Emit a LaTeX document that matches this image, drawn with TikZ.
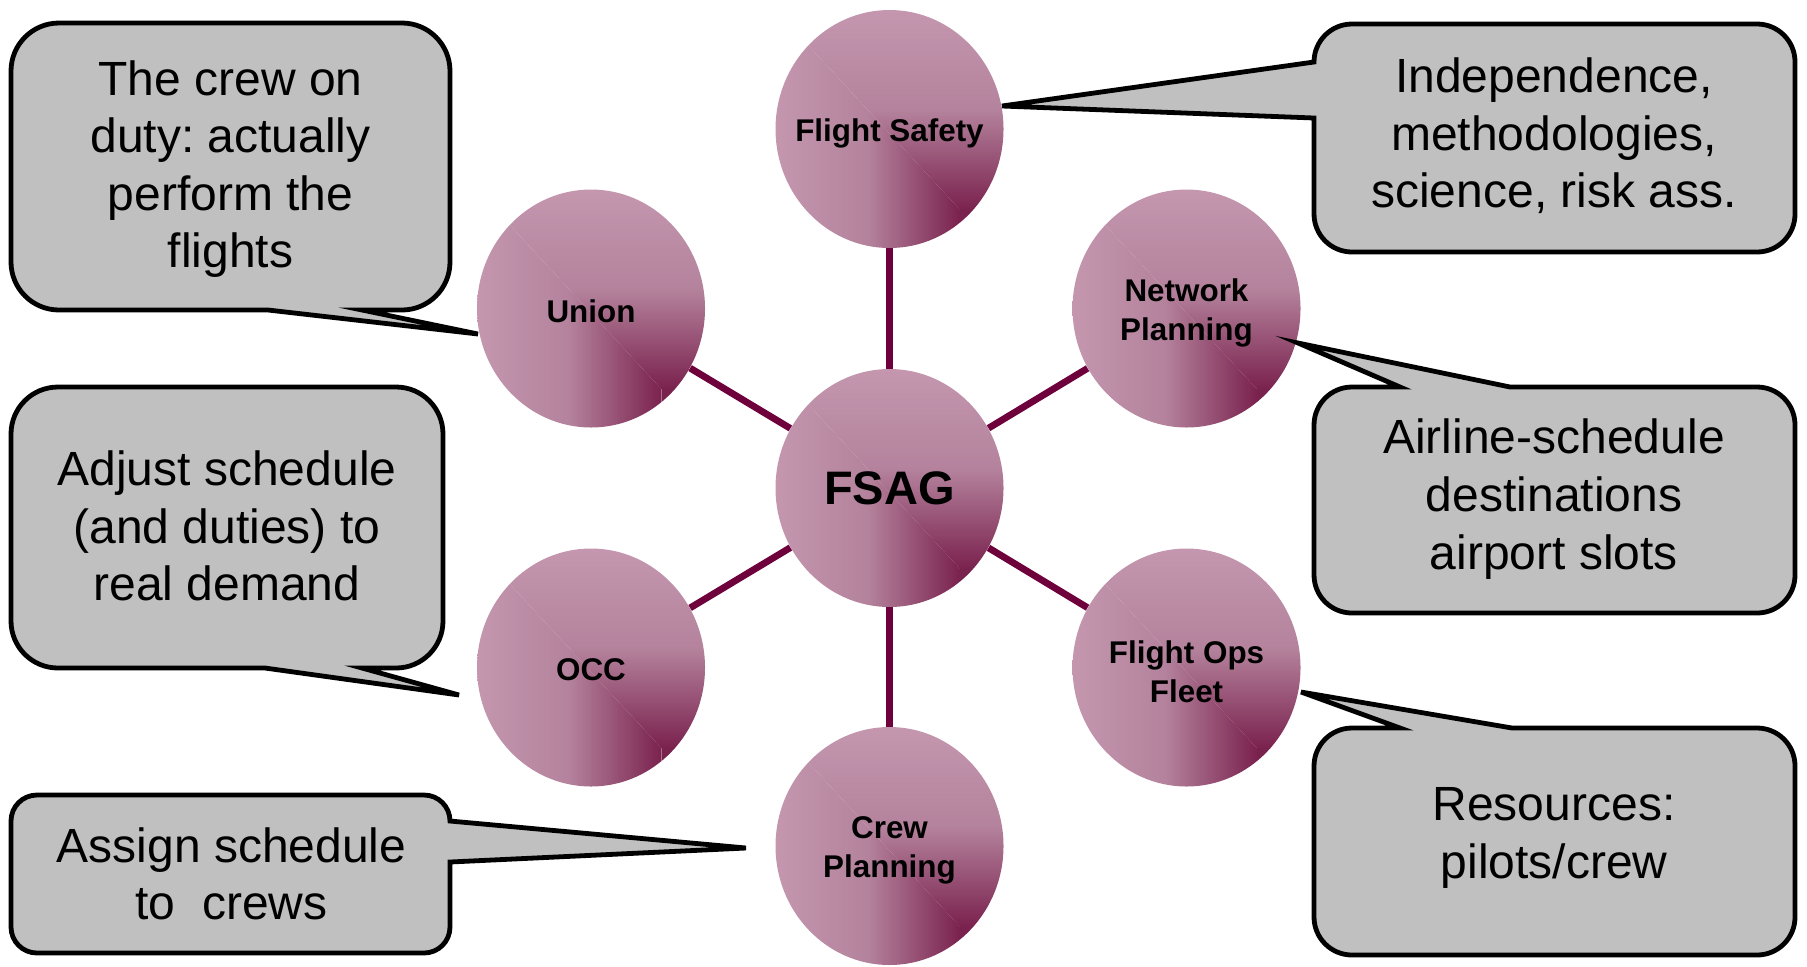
\documentclass[tikz,border=0pt]{standalone}
\usepackage{fontspec}
\setmainfont{Liberation Sans}
\usetikzlibrary{shapes.geometric,calc}
\definecolor{orbLight}{RGB}{196,151,175}
\definecolor{orbMid}{RGB}{180,130,156}
\definecolor{orbDark}{RGB}{122,34,78}
\definecolor{linkRed}{RGB}{110,0,60}
\definecolor{noteGray}{RGB}{192,192,192}

\tikzset{
  orb/.style={ellipse, minimum width=114pt, minimum height=119pt, inner sep=0pt,
    path picture={
      \coordinate (pw) at (path picture bounding box.north west);
      \coordinate (pe) at (path picture bounding box.south east);
      \coordinate (pf) at ($(pw)!0.81!(pw -| pe)$);
      \coordinate (pg) at ($(pw)!0.84!(pw |- pe)$);
      \coordinate (pF) at (pf |- pg);
      % upper part: darkens downwards
      \shade[top color=orbLight, bottom color=orbDark, middle color=orbMid]
        (pw) -- (pw -| pe) -- (pe |- pF) -- (pF) -- cycle;
      % left part: darkens to the right
      \shade[left color=orbLight, right color=orbDark, middle color=orbMid]
        (pw) -- (pF) -- (pF |- pe) -- (pw |- pe) -- cycle;
      \fill[orbDark] (pF) -- (pe |- pF) -- (pe) -- (pF |- pe) -- cycle;
    }},
  orbtext/.style={align=center, inner sep=0pt, font=\fontsize{15.7}{19.5}\selectfont\bfseries},
  link/.style={draw=linkRed, line width=3.4pt},
  note/.style={draw=black, fill=noteGray, line width=2.4pt, line join=miter},
  notetext/.style={align=center, inner sep=0pt, font=\frenchspacing\fontsize{24}{28.8}\selectfont}
}

\begin{document}
\begin{tikzpicture}[x=0.5pt,y=-0.5pt]
\useasboundingbox (0,0) rectangle (1807,966);

% the hub and its six groups
\node[orb] (safety)  at (889.5,129)    {};
\node[orb] (union)   at (591,308.5)    {};
\node[orb] (network) at (1186.5,308.5) {};
\node[orb] (fsag)    at (889.5,488)    {};
\node[orb] (occ)     at (591,667.5)    {};
\node[orb] (ops)     at (1186.5,667.5) {};
\node[orb] (crew)    at (889.5,846)    {};

\node[orbtext] (safety-t)  at ([yshift=-2.2pt]safety.center)  {Flight Safety};
\node[orbtext] (union-t)   at ([yshift=-1.2pt]union.center)   {Union};
\node[orbtext] (network-t) at ([yshift=-2.2pt]network.center) {Network\\Planning};
\node[orbtext, font=\fontsize{23.5}{28}\selectfont\bfseries] (fsag-t) at (fsag.center) {FSAG};
\node[orbtext] (occ-t)     at ([yshift=-1.2pt]occ.center)     {OCC};
\node[orbtext] (ops-t)     at ([yshift=-2.2pt]ops.center)     {Flight Ops\\Fleet};
\node[orbtext] (crew-t)    at ([yshift=-2.2pt]crew.center)    {Crew\\Planning};

% spokes
\draw[link] (fsag) -- (safety);
\draw[link] (fsag) -- (crew);
\draw[link] (fsag) -- (union);
\draw[link] (fsag) -- (occ);
\draw[link] (fsag) -- (network);
\draw[link] (fsag) -- (ops);

% callouts on the left
\draw[note] (59,23) -- (402,23) .. controls (428.5,23) and (450,44.5) .. (450,71)
  -- (450,262) .. controls (450,288.5) and (428.5,310) .. (402,310)
  -- (362,310) -- (478,334) -- (268,310)
  -- (59,310) .. controls (32.5,310) and (11,288.5) .. (11,262)
  -- (11,71) .. controls (11,44.5) and (32.5,23) .. (59,23) -- cycle;
\node[notetext] (tcrew) at (230.5,169) {The crew on\\duty: actually\\perform the\\flights};

\draw[note] (58,387) -- (396,387) .. controls (422,387) and (443,408) .. (443,434)
  -- (443,621) .. controls (443,647) and (422,668) .. (396,668)
  -- (362,668) -- (459,695) -- (265,668)
  -- (58,668) .. controls (32,668) and (11,647) .. (11,621)
  -- (11,434) .. controls (11,408) and (32,387) .. (58,387) -- cycle;
\node[notetext] (tadjust) at (227,526) {Adjust schedule\\(and duties) to\\real demand};

\draw[note] (37,795) -- (424,795) .. controls (438.4,795) and (450,806.6) .. (450,821)
  -- (746,848) -- (450,862)
  -- (450,927) .. controls (450,941.4) and (438.4,953) .. (424,953)
  -- (37,953) .. controls (22.6,953) and (11,941.4) .. (11,927)
  -- (11,821) .. controls (11,806.6) and (22.6,795) .. (37,795) -- cycle;
\node[notetext] (tassign) at (231.5,874) {Assign schedule\\to\ \ crews};

% callouts on the right
\draw[note] (1352,24) -- (1757,24) .. controls (1778,24) and (1795,41) .. (1795,62)
  -- (1795,214) .. controls (1795,235) and (1778,252) .. (1757,252)
  -- (1352,252) .. controls (1331,252) and (1314,235) .. (1314,214)
  -- (1314,118) -- (1002,106) -- (1314,62)
  .. controls (1314,41) and (1331,24) .. (1352,24) -- cycle;
\node[notetext] (tindep) at (1554,136) {Independence,\\methodologies,\\science, risk ass.};

\draw[note] (1352,387) -- (1400,387) -- (1298,343) -- (1510,387)
  -- (1757,387) .. controls (1778,387) and (1795,404) .. (1795,425)
  -- (1795,575) .. controls (1795,596) and (1778,613) .. (1757,613)
  -- (1352,613) .. controls (1331,613) and (1314,596) .. (1314,575)
  -- (1314,425) .. controls (1314,404) and (1331,387) .. (1352,387) -- cycle;
\node[notetext] (tairline) at (1554,499) {Airline-schedule\\destinations\\airport slots};

\draw[note] (1352,728) -- (1400,728) -- (1301,692) -- (1512,728)
  -- (1757,728) .. controls (1778,728) and (1795,745) .. (1795,766)
  -- (1795,917) .. controls (1795,938) and (1778,955) .. (1757,955)
  -- (1352,955) .. controls (1331,955) and (1314,938) .. (1314,917)
  -- (1314,766) .. controls (1314,745) and (1331,728) .. (1352,728) -- cycle;
\node[notetext] (tres) at (1554,838) {Resources:\\pilots/crew};
\end{tikzpicture}
\end{document}
